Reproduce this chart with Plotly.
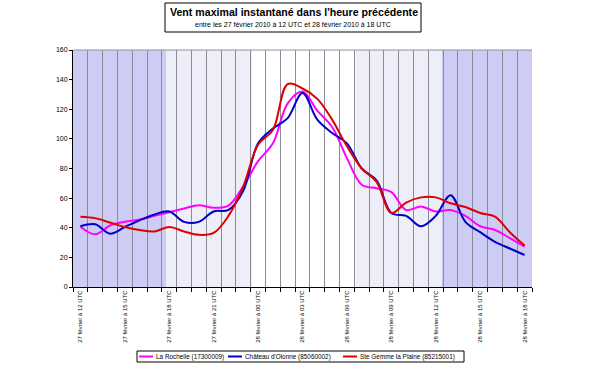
import plotly.graph_objects as go

# ---------------- data ----------------
hours = list(range(31))  # 27 Feb 12 UTC -> 28 Feb 18 UTC, hourly
tick_positions = list(range(0, 31, 3))
tick_labels = ["27 février à 12 UTC", "27 février à 15 UTC", "27 février à 18 UTC",
               "27 février à 21 UTC", "28 février à 00 UTC", "28 février à 03 UTC",
               "28 février à 06 UTC", "28 février à 09 UTC", "28 février à 12 UTC",
               "28 février à 15 UTC", "28 février à 18 UTC"]

names = ["La Rochelle (17300009)", "Château d'Olonne (85060002)", "Ste Gemme la Plaine (85215001)"]

la_rochelle = [40.7, 35.6, 41.5, 44, 45.5, 48, 50.5, 53, 55.2, 53.5, 55, 68, 85, 97, 124, 132,
               119, 108, 87, 69, 66.7, 64, 52, 54.3, 51, 52, 48, 41, 38.5, 33, 27.2]
olonne = [41, 42.3, 36, 40.5, 45, 49, 51, 44, 44, 51, 52, 65, 97, 107, 114, 131,
          113, 104, 97, 80, 72, 50, 48, 41, 48, 62, 44, 37, 30.5, 26, 21.6]
ste_gemme = [47.5, 46.5, 43.5, 40.5, 38.5, 37.5, 40.5, 37.5, 35.2, 36.5, 48, 68, 96, 106, 137, 134,
             127, 113, 95, 80, 71, 50, 57, 60.5, 60.5, 56.5, 54, 50, 47.5, 37, 28]

colors = ["#FF00FF", "#0000CC", "#E00000"]
series = [la_rochelle, olonne, ste_gemme]

# shaded periods (hours from start)
bands = [(-0.5, 5.8, "#CCCCF4"), (5.8, 11.6, "#EEEEF9"), (18.6, 24.4, "#EEEEF9"), (24.4, 30.5, "#CCCCF4")]

W, H = 597, 377
L, R, T, B = 73, 65, 50, 90
PW, PH = W - L - R, H - T - B


def px(x):
    return (x - L) / PW


def py(y):
    return (H - B - y) / PH


fig = go.Figure()
for name, vals, col in zip(names, series, colors):
    fig.add_trace(go.Scatter(x=hours, y=vals, mode="lines", name=name,
                             line=dict(color=col, width=2, shape="spline", smoothing=1.0),
                             showlegend=False))

shapes = []
for x0, x1, c in bands:
    shapes.append(dict(type="rect", xref="x", yref="paper", x0=x0, x1=x1, y0=0, y1=1,
                       fillcolor=c, line=dict(width=0), layer="below"))
# top border of plot
shapes.append(dict(type="line", xref="paper", yref="paper", x0=0, x1=1, y0=1, y1=1,
                   line=dict(color="#9090A0", width=1)))
# title box
shapes.append(dict(type="rect", xref="paper", yref="paper", x0=px(165), x1=px(421),
                   y0=py(32), y1=py(3), line=dict(color="black", width=1)))

annotations = [
    dict(text="<b>Vent maximal instantané dans l'heure précédente</b>", xref="paper", yref="paper",
         x=px(294), y=py(12), xanchor="center", yanchor="middle", showarrow=False,
         font=dict(family="Liberation Sans, Arial", size=10.6, color="black")),
    dict(text="entre les 27 février 2010 à 12 UTC et 28 février 2010 à 18 UTC", xref="paper", yref="paper",
         x=px(293), y=py(25), xanchor="center", yanchor="middle", showarrow=False,
         font=dict(family="Liberation Sans, Arial", size=7, color="black")),
]

# manual compact legend
lx0, lx1, ly0, ly1 = 137, 464, 351, 362
shapes.append(dict(type="rect", xref="paper", yref="paper", x0=px(lx0), x1=px(lx1), y0=py(ly1), y1=py(ly0),
                   line=dict(color="black", width=1), fillcolor="white"))
item_x = [139, 228, 343]
for xs, name, col in zip(item_x, names, colors):
    shapes.append(dict(type="line", xref="paper", yref="paper", x0=px(xs), x1=px(xs + 14),
                       y0=py(356.5), y1=py(356.5), line=dict(color=col, width=2)))
    annotations.append(dict(text=name, xref="paper", yref="paper", x=px(xs + 15), y=py(356.5),
                            xanchor="left", yanchor="middle", showarrow=False,
                            font=dict(family="Liberation Sans, Arial", size=6.4, color="black")))

fig.update_layout(
    width=W, height=H, margin=dict(l=L, r=R, t=T, b=B, autoexpand=False),
    paper_bgcolor="white", plot_bgcolor="white",
    shapes=shapes, annotations=annotations, showlegend=False,
    font=dict(family="Liberation Sans, Arial", size=7, color="black"),
)
fig.update_xaxes(range=[-0.5, 30.5], tickmode="array", tickvals=tick_positions, ticktext=tick_labels,
                 tickangle=-90, tickfont=dict(size=6), ticks="", showgrid=False,
                 showline=True, linecolor="black", linewidth=1, zeroline=False, automargin=False,
                 minor=dict(tick0=0.5, dtick=1, showgrid=True, gridcolor="#8a8a9a", gridwidth=1,
                            ticks="outside", ticklen=4, tickcolor="black"))
fig.update_yaxes(range=[0, 160], dtick=20, showgrid=False, zeroline=False, automargin=False,
                 showline=True, linecolor="black", linewidth=1,
                 ticks="outside", ticklen=3, tickcolor="black", tickfont=dict(size=7))

fig.write_html("out.html", config={"displayModeBar": False},
               post_script="document.body.style.margin='0px';document.body.style.padding='0px';")
